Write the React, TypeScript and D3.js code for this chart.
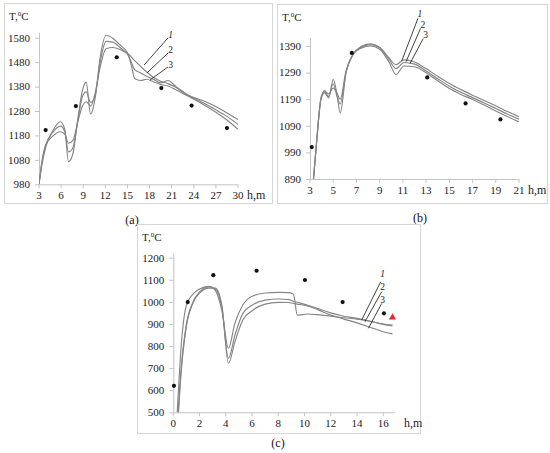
import React from "react"
import * as d3 from "d3"

const FONT = "'Liberation Serif', 'Times New Roman', serif"
const CURVE = "#858585"
const AXIS = "#c4c4c4"
const FRAME = "#d6d6d6"

// ---- panel (a)
const depthA = [3, 3.4, 3.9, 4.8, 5.9, 6.5, 7.0, 7.6, 8.3, 8.9, 9.4, 10.0, 10.6, 11.3, 12.1, 13, 14, 15, 15.5, 16, 16.8, 17.6, 18.5, 19.5, 20.5, 21.5, 23, 25, 27, 28.5, 30]
const tempA1 = [980, 1060, 1130, 1195, 1236, 1205, 1073, 1105, 1255, 1365, 1398, 1268, 1330, 1500, 1590, 1578, 1550, 1518, 1470, 1412, 1405, 1410, 1400, 1388, 1382, 1368, 1345, 1312, 1275, 1243, 1205]
const tempA2 = [980, 1070, 1140, 1190, 1218, 1195, 1113, 1130, 1245, 1340, 1358, 1315, 1340, 1480, 1565, 1562, 1540, 1512, 1482, 1448, 1436, 1422, 1410, 1395, 1405, 1382, 1350, 1318, 1285, 1258, 1225]
const tempA3 = [980, 1075, 1140, 1175, 1195, 1185, 1148, 1160, 1240, 1300, 1318, 1300, 1350, 1460, 1535, 1540, 1532, 1515, 1502, 1485, 1462, 1440, 1418, 1402, 1392, 1378, 1348, 1325, 1298, 1272, 1245]
const dotDepthA = [3.9, 8.0, 13.55, 19.6, 23.7, 28.5]
const dotTempA = [1202, 1300, 1500, 1374, 1302, 1210]
const xTicksA = [3, 6, 9, 12, 15, 18, 21, 24, 27, 30]
const yTicksA = [980, 1080, 1180, 1280, 1380, 1480, 1580]
const labelAtA = [[20.87, 1591], [20.87, 1533], [20.87, 1471]]
const leaderFromA = [[20.5, 1579], [20.5, 1517], [20.5, 1460]]
const leaderToA = [[17.25, 1468], [17.65, 1436], [18.06, 1407]]

// ---- panel (b)
const depthB = [3.3, 3.6, 3.95, 4.25, 4.6, 5.0, 5.3, 5.6, 6.1, 6.7, 7.4, 8.2, 9.0, 9.8, 10.4, 11.1, 12, 13, 14, 15, 16, 17, 18, 19, 20, 21]
const tempB1 = [890, 1045, 1195, 1222, 1210, 1232, 1215, 1190, 1295, 1358, 1388, 1398, 1385, 1345, 1320, 1338, 1330, 1305, 1276, 1249, 1226, 1205, 1185, 1165, 1144, 1124]
const tempB2 = [890, 1045, 1195, 1218, 1200, 1248, 1205, 1172, 1292, 1358, 1385, 1395, 1382, 1340, 1305, 1328, 1322, 1296, 1267, 1239, 1216, 1196, 1176, 1155, 1134, 1115]
const tempB3 = [890, 1045, 1190, 1215, 1195, 1264, 1215, 1138, 1288, 1358, 1382, 1390, 1378, 1330, 1283, 1315, 1312, 1289, 1259, 1230, 1208, 1189, 1168, 1146, 1125, 1105]
const dotDepthB = [3.15, 6.6, 13.1, 16.4, 19.4]
const dotTempB = [1010, 1364, 1272, 1174, 1114]
const xTicksB = [3, 5, 7, 9, 11, 13, 15, 17, 19, 21]
const yTicksB = [890, 990, 1090, 1190, 1290, 1390]
const labelAtB = [[12.47, 1510], [12.72, 1471], [12.95, 1433]]
const leaderFromB = [[12.3, 1494], [12.52, 1456], [12.75, 1418]]
const leaderToB = [[10.9, 1334], [11.27, 1331], [11.61, 1324]]

// ---- panel (c)
const depthC = [0.3, 0.6, 1.0, 1.5, 2.0, 2.7, 3.2, 3.7, 4.2, 4.7, 5.3, 6.0, 7.0, 8.0, 8.8, 9.15, 9.45, 10.2, 11, 12, 13, 14, 15, 16, 16.7]
const tempC1 = [500, 800, 985, 1035, 1058, 1070, 1052, 960, 790, 905, 986, 1025, 1040, 1043, 1042, 1035, 940, 945, 942, 935, 928, 922, 912, 900, 895]
const tempC2 = [430, 700, 900, 1000, 1045, 1068, 1058, 975, 745, 850, 948, 985, 1008, 1013, 1010, 1003, 998, 986, 970, 950, 935, 925, 912, 898, 891]
const tempC3 = [400, 680, 890, 995, 1040, 1062, 1062, 985, 722, 820, 918, 960, 990, 998, 997, 993, 990, 982, 965, 940, 922, 905, 885, 865, 855]
const dotDepthC = [0.05, 1.1, 3.05, 6.35, 10.03, 12.9, 16.05]
const dotTempC = [620, 999, 1121, 1141, 1099, 999, 948]
const triangleC = [16.7, 930]
const xTicksC = [0, 2, 4, 6, 8, 10, 12, 14, 16]
const yTicksC = [500, 600, 700, 800, 900, 1000, 1100, 1200]
const labelAtC = [[15.95, 1126], [15.95, 1069], [15.95, 1012]]
const leaderFromC = [[15.8, 1091], [15.88, 1046], [15.88, 993]]
const leaderToC = [[14.35, 918], [14.6, 910], [14.86, 880]]

const curveNames = ["1", "2", "3"]

interface PanelProps {
  id: string
  frame: [number, number, number, number]
  xDomain: [number, number]
  xRange: [number, number]
  yDomain: [number, number]
  yRange: [number, number]
  xAxisEnd: number
  yAxisTop: number
  xTicks: number[]
  yTicks: number[]
  depth: number[]
  temps: number[][]
  dotX: number[]
  dotY: number[]
  labelAt: number[][]
  leaderFrom: number[][]
  leaderTo: number[][]
  caption: string
  captionPos: [number, number]
  tickGap: number
  triangle?: number[]
}

const Panel: React.FC<PanelProps> = (p) => {
  const x = d3.scaleLinear().domain(p.xDomain).range(p.xRange)
  const y = d3.scaleLinear().domain(p.yDomain).range(p.yRange)
  const line = d3
    .line<number>()
    .x((_, i) => x(p.depth[i]))
    .y((d) => y(d))
    .curve(d3.curveMonotoneX)

  const x0 = x(p.xDomain[0])
  const y0 = y(p.yDomain[0])
  const xEnd = x(p.xAxisEnd)
  const yTop = y(p.yAxisTop)
  const [fx, fy, fw, fh] = p.frame

  return (
    <g>
      <rect x={fx + 0.5} y={fy + 0.5} width={fw} height={fh} fill="white" stroke={FRAME} />
      <clipPath id={`clip-${p.id}`}>
        <rect x={x0} y={yTop - 20} width={xEnd - x0 + 2} height={y0 - yTop + 20} />
      </clipPath>

      {/* axes */}
      <line x1={x0} x2={xEnd} y1={y0 + 0.5} y2={y0 + 0.5} stroke={AXIS} />
      <line x1={x0 + 0.5} x2={x0 + 0.5} y1={y0} y2={yTop} stroke={AXIS} />
      {p.xTicks.map((t) => (
        <g key={`xt${t}`}>
          <line x1={x(t)} x2={x(t)} y1={y0} y2={y0 + 4} stroke={AXIS} />
          <text x={x(t)} y={y0 + p.tickGap} textAnchor="middle" fontSize={11} fill="#222" fontFamily={FONT}>
            {t}
          </text>
        </g>
      ))}
      {p.yTicks.map((t) => (
        <g key={`yt${t}`}>
          <line x1={x0 - 4} x2={x0} y1={y(t) + 0.5} y2={y(t) + 0.5} stroke={AXIS} />
          <text x={x0 - 9} y={y(t)} dy="0.35em" textAnchor="end" fontSize={11} fill="#222" fontFamily={FONT}>
            {t}
          </text>
        </g>
      ))}
      <text x={xEnd + 9} y={y0 + p.tickGap} fontSize={12} fill="#222" fontFamily={FONT}>
        h,m
      </text>
      <text x={fx + 5} y={fy + 17} fontSize={11} fill="#222" fontFamily={FONT}>
        T,<tspan fontSize={7} dy={-4}>0</tspan>
        <tspan dy={4}>C</tspan>
      </text>

      {/* curves */}
      <g clipPath={`url(#clip-${p.id})`}>
        {p.temps.map((s, i) => (
          <path key={i} d={line(s) || ""} fill="none" stroke={CURVE} strokeWidth={1.15} />
        ))}
      </g>

      {/* measured points */}
      {p.dotX.map((d, i) => (
        <circle key={`d${i}`} cx={x(d)} cy={y(p.dotY[i])} r={2.1} fill="#111" />
      ))}
      {p.triangle && (
        <path
          d={d3.symbol(d3.symbolTriangle, 22)() || ""}
          transform={`translate(${x(p.triangle[0])},${y(p.triangle[1])})`}
          fill="#e8262b"
        />
      )}

      {/* curve labels */}
      {p.labelAt.map((l, i) => (
        <g key={`l${i}`}>
          <line
            x1={x(p.leaderFrom[i][0])}
            y1={y(p.leaderFrom[i][1])}
            x2={x(p.leaderTo[i][0])}
            y2={y(p.leaderTo[i][1])}
            stroke="#111"
            strokeWidth={0.8}
          />
          <text
            x={x(l[0])}
            y={y(l[1])}
            dy="0.35em"
            textAnchor="middle"
            fontSize={9.5}
            fontStyle={i === 0 ? "italic" : "normal"}
            fill="#222"
            fontFamily={FONT}
          >
            {curveNames[i]}
          </text>
        </g>
      ))}

      <text x={p.captionPos[0]} y={p.captionPos[1]} textAnchor="middle" fontSize={12} fill="#111" fontFamily={FONT}>
        {p.caption}
      </text>
    </g>
  )
}

const App: React.FC = () => {
  return (
    <div style={{ position: "absolute", left: 0, top: 0 }}>
      <svg width={550} height={453} style={{ display: "block", background: "white" }}>
        <Panel
          id="a"
          frame={[4, 3, 268, 200]}
          xDomain={[3, 30]}
          xRange={[39, 238]}
          yDomain={[980, 1580]}
          yRange={[184.3, 37.7]}
          xAxisEnd={30}
          yAxisTop={1600}
          xTicks={xTicksA}
          yTicks={yTicksA}
          depth={depthA}
          temps={[tempA1, tempA2, tempA3]}
          dotX={dotDepthA}
          dotY={dotTempA}
          labelAt={labelAtA}
          leaderFrom={leaderFromA}
          leaderTo={leaderToA}
          caption="(a)"
          captionPos={[132, 224]}
          tickGap={15}
        />
        <Panel
          id="b"
          frame={[277, 4, 270, 199]}
          xDomain={[3, 21]}
          xRange={[310, 519]}
          yDomain={[890, 1390]}
          yRange={[179, 46]}
          xAxisEnd={21}
          yAxisTop={1420}
          xTicks={xTicksB}
          yTicks={yTicksB}
          depth={depthB}
          temps={[tempB1, tempB2, tempB3]}
          dotX={dotDepthB}
          dotY={dotTempB}
          labelAt={labelAtB}
          leaderFrom={leaderFromB}
          leaderTo={leaderToB}
          caption="(b)"
          captionPos={[420, 222]}
          tickGap={15}
        />
        <Panel
          id="c"
          frame={[137, 224, 283, 209]}
          xDomain={[0, 16]}
          xRange={[173.3, 383.3]}
          yDomain={[500, 1200]}
          yRange={[412.3, 257.7]}
          xAxisEnd={16.9}
          yAxisTop={1220}
          xTicks={xTicksC}
          yTicks={yTicksC}
          depth={depthC}
          temps={[tempC1, tempC2, tempC3]}
          dotX={dotDepthC}
          dotY={dotTempC}
          labelAt={labelAtC}
          leaderFrom={leaderFromC}
          leaderTo={leaderToC}
          caption="(c)"
          captionPos={[278, 447]}
          tickGap={15}
          triangle={triangleC}
        />
      </svg>
    </div>
  )
}

export default App
